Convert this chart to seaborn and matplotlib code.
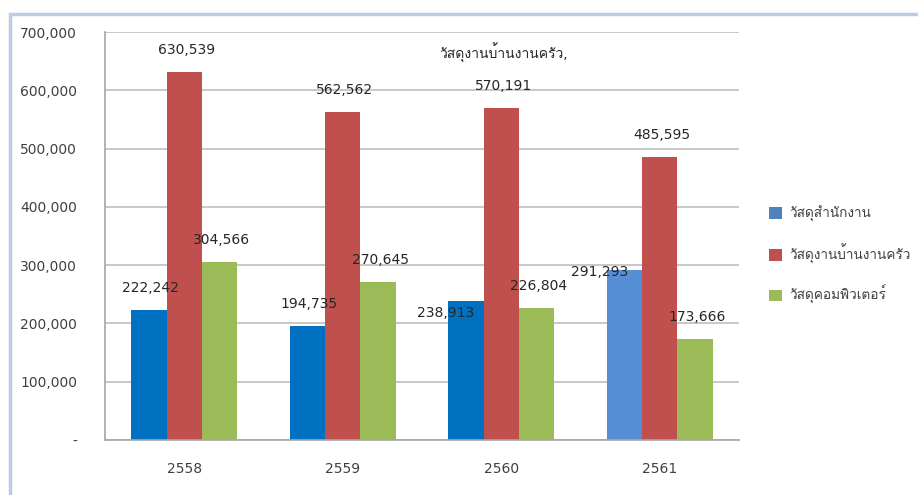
import warnings
warnings.filterwarnings("ignore")

import numpy as np
import pandas as pd
import matplotlib
matplotlib.use("Agg")
import matplotlib.pyplot as plt
import seaborn as sns
from matplotlib import font_manager, ft2font
from matplotlib.patches import Patch, Rectangle

# ── data ──────────────────────────────────────────────────────────────
years = ["2558", "2559", "2560", "2561"]
series = ["วัสดุสำนักงาน", "วัสดุงานบ้านงานครัว", "วัสดุคอมพิวเตอร์"]
office = [222242, 194735, 238913, 291293]
household = [630539, 562562, 570191, 485595]
computer = [304566, 270645, 226804, 173666]
y_ticks = [0, 100000, 200000, 300000, 400000, 500000, 600000, 700000]
y_tick_labels = ["-", "100,000", "200,000", "300,000", "400,000",
                 "500,000", "600,000", "700,000"]

colors = ["#0070C0", "#C0504D", "#9BBB59"]
legend_colors = ["#4F81BD", "#C0504D", "#9BBB59"]


def find_thai_family():
    for f in font_manager.fontManager.ttflist:
        try:
            if 0x0E27 in ft2font.FT2Font(f.fname).get_charmap():
                return f.name
        except Exception:
            continue
    return None


sns.set_theme(style="white")
thai = find_thai_family()
families = ["DejaVu Sans"] + ([thai] if thai else [])
plt.rcParams["font.family"] = families
plt.rcParams["text.color"] = "#404040"

df = pd.DataFrame({
    "year": np.repeat(years, 3),
    "series": series * len(years),
    "value": np.ravel(np.column_stack([office, household, computer])),
})

fig = plt.figure(figsize=(9.18, 4.95), dpi=100)
ax = fig.add_axes([105 / 918, 1 - 440 / 495, 634 / 918, 408 / 495])

sns.barplot(data=df, x="year", y="value", hue="series", order=years,
            hue_order=series, palette=colors, width=0.67, gap=0,
            linewidth=0, saturation=1, legend=False, ax=ax)

# last office bar is drawn lighter in the original
bars = [p for p in ax.patches if p.get_height() > 0]
bars_sorted = sorted(bars, key=lambda p: p.get_x())
bars_sorted[9].set_facecolor("#558ED5")

ax.set_ylim(0, 700000)
ax.set_xlim(-0.5, 3.5)
ax.set_yticks(y_ticks)
ax.set_yticklabels(y_tick_labels, fontsize=10, color="#404040")
ax.set_xticks(range(len(years)))
ax.set_xticklabels(years, fontsize=10, color="#404040")
ax.set_xticks(np.arange(-0.5, 4, 1), minor=True)
ax.tick_params(axis="x", which="major", length=0, pad=16)
ax.tick_params(axis="x", which="minor", length=6, color="#A6A6A6", width=1.2)
ax.tick_params(axis="y", length=6, color="#BFBFBF", width=1.2, pad=14)
ax.set_xlabel("")
ax.set_ylabel("")
ax.yaxis.grid(True, color="#BFBFBF", linewidth=1.2)
ax.set_axisbelow(True)
for s in ["top", "right"]:
    ax.spines[s].set_visible(False)
for s in ["left", "bottom"]:
    ax.spines[s].set_color("#A6A6A6")
    ax.spines[s].set_linewidth(1.2)

# ── data labels ───────────────────────────────────────────────────────
values = [office, household, computer]
shift = {(0, 2): (-20, -12), (0, 3): (-25, -2)}
offsets = [-0.2233, 0, 0.2233]
for si, vals in enumerate(values):
    for yi, v in enumerate(vals):
        dx, dy = shift.get((si, yi), (2, 22))
        ax.annotate(f"{v:,}", (yi + offsets[si], v), xytext=(dx, dy),
                    textcoords="offset pixels", ha="center", va="center",
                    fontsize=10, color="#262626")
ax.annotate(series[1] + ",", (2, household[2]), xytext=(2, 55),
            textcoords="offset pixels", ha="center", va="center",
            fontsize=10, color="#262626")

# ── legend ────────────────────────────────────────────────────────────
handles = [Patch(facecolor=c, edgecolor="none") for c in legend_colors]
fig.legend(handles, series, loc="center left",
           bbox_to_anchor=(757 / 918, 1 - 255 / 495), frameon=False,
           fontsize=9.8, handlelength=0.95, handleheight=0.95,
           handletextpad=0.5, labelspacing=1.6)

# frame border of the original chart
fig.add_artist(Rectangle((10 / 918, -0.1), 1.2, (1 - 14 / 495) + 0.1,
                         transform=fig.transFigure, fill=False,
                         edgecolor="#B9CDE5", linewidth=2.5))

fig.savefig("out.png", dpi=100)
